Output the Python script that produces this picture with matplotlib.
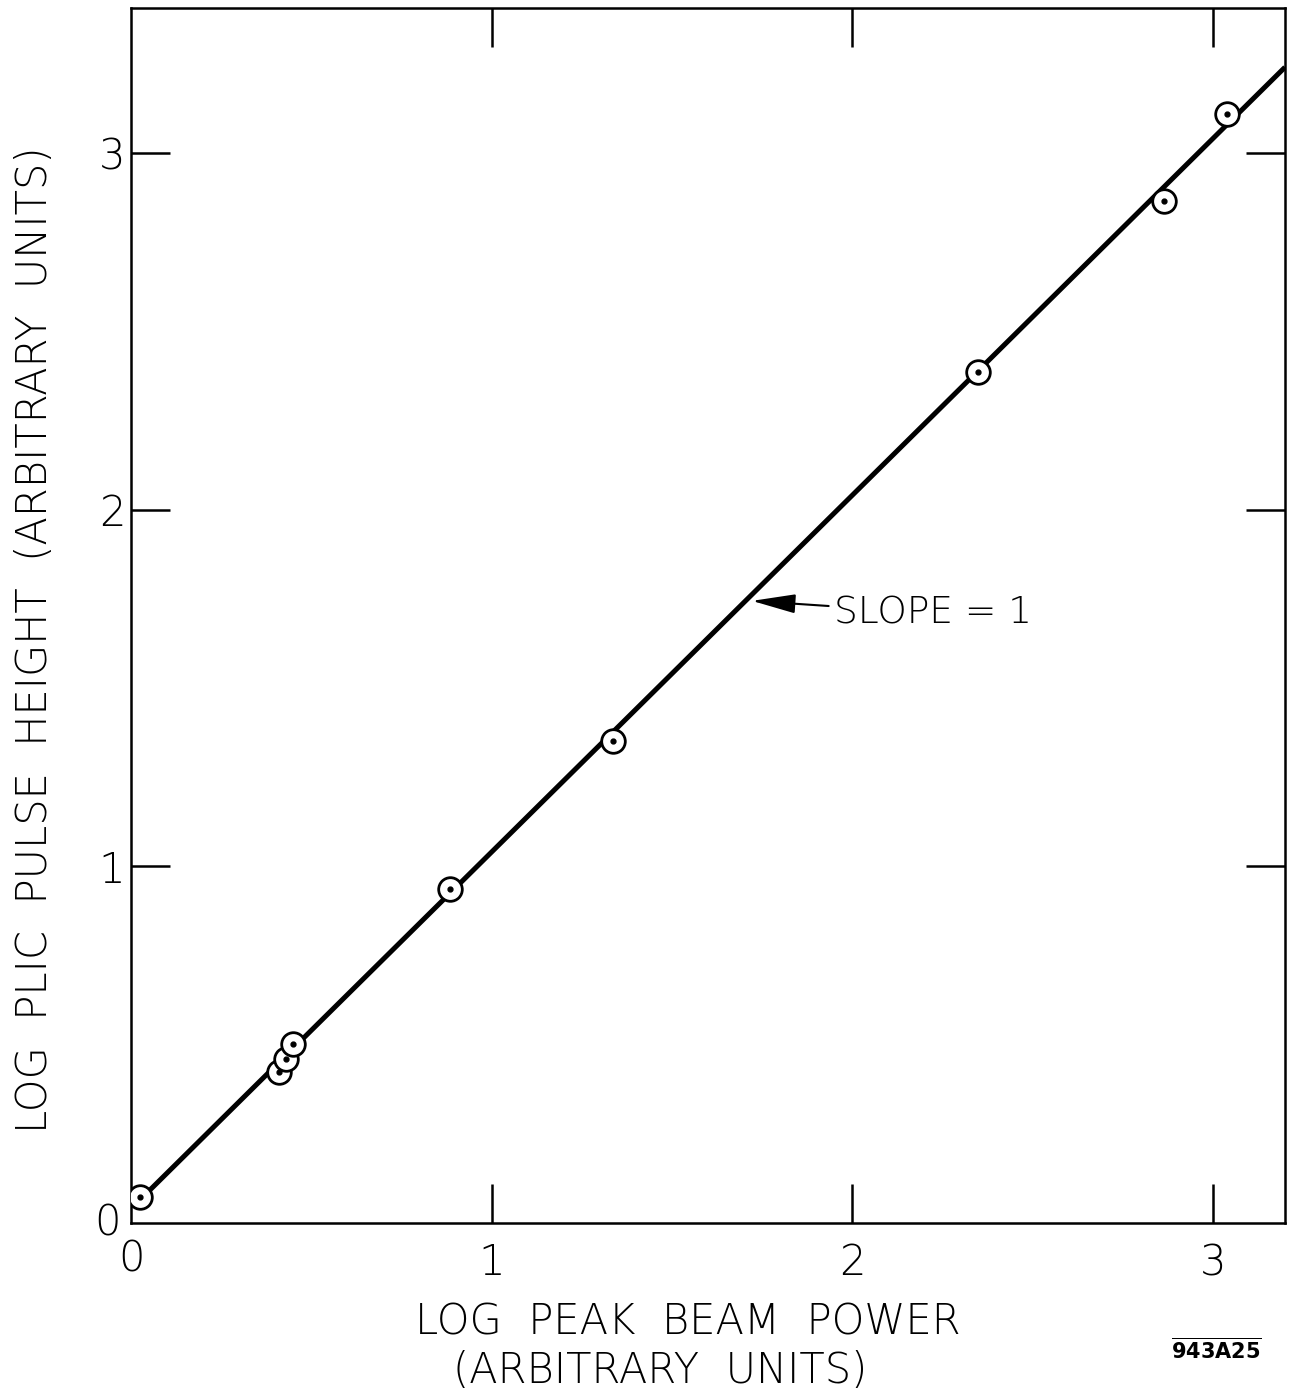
import numpy as np
import matplotlib
matplotlib.use("Agg")
import matplotlib.pyplot as plt

log_power = [0.025, 0.410, 0.430, 0.449, 0.884, 1.336, 2.348, 2.864, 3.039]
log_pulse = [0.073, 0.423, 0.460, 0.502, 0.936, 1.351, 2.386, 2.865, 3.109]

# slope = 1 guide line
fit_x = [0.025, 3.2]
fit_offset = 0.04

ticks = [1, 2, 3]

plt.rcParams['font.family'] = ['DejaVu Sans']

fig = plt.figure(figsize=(12.91, 13.99), dpi=100)
ax = fig.add_axes([131 / 1291, 1 - 1223 / 1399, (1285 - 131) / 1291, (1223 - 8) / 1399])

fit_y = [v + fit_offset for v in fit_x]
ax.plot(fit_x, fit_y, color='black', linewidth=3.6, solid_capstyle='butt', zorder=2)
ax.plot(log_power, log_pulse, linestyle='none', marker='o', markersize=17,
        markerfacecolor='white', markeredgecolor='black', markeredgewidth=2.0, zorder=3)
ax.plot(log_power, log_pulse, linestyle='none', marker='o', markersize=3.5,
        color='black', zorder=4)

ax.annotate('SLOPE = 1', xy=(1.722, 1.744), xytext=(1.95, 1.71),
            fontsize=27, fontweight='light', va='center', ha='left',
            arrowprops=dict(arrowstyle='-|>,head_length=1.0,head_width=0.22',
                            color='black', lw=1.5, shrinkA=2, shrinkB=0))

ax.set_xlim(0, 3.2)
ax.set_ylim(0, 3.406)
ax.set_xticks(ticks)
ax.set_yticks(ticks)
ax.set_xticklabels([str(t) for t in ticks], fontsize=30, fontweight='light')
ax.set_yticklabels([str(t) for t in ticks], fontsize=30, fontweight='light')
ax.tick_params(direction='in', length=28, width=1.8, top=True, right=True)
ax.tick_params(axis='x', pad=14)
ax.tick_params(axis='y', pad=4)
for s in ax.spines.values():
    s.set_linewidth(1.8)

# origin zeros drawn separately, offset like the original
ax.text(-0.065, 0.0, '0', fontsize=30, fontweight='light', ha='center', va='center',
        clip_on=False)
ax.text(0.0, -0.10, '0', fontsize=30, fontweight='light', ha='center', va='center',
        clip_on=False)

fig.text(688 / 1291, 1 - 1322 / 1399, 'LOG  PEAK  BEAM  POWER', fontsize=30,
         fontweight='light', ha='center', va='center')
fig.text(660 / 1291, 1 - 1370 / 1399, '(ARBITRARY  UNITS)', fontsize=30,
         fontweight='light', ha='center', va='center')
fig.text(35 / 1291, 1 - 640 / 1399, 'LOG  PLIC  PULSE  HEIGHT  (ARBITRARY  UNITS)',
         fontsize=30, fontweight='light', rotation=90, ha='center', va='center')
fig.text(1216 / 1291, 1 - 1350 / 1399, r'$\overline{\mathregular{943A25}}$',
         fontsize=15, fontweight='bold', ha='center', va='center')

fig.savefig('out.png', dpi=100)
